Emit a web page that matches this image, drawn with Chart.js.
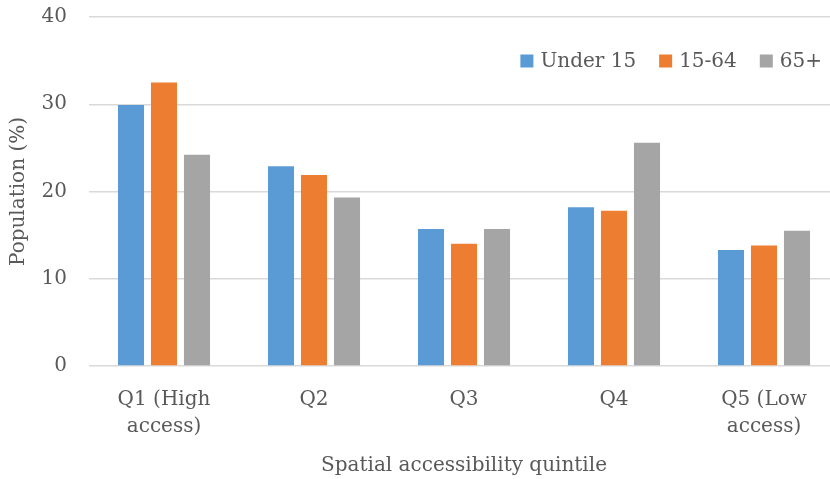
<!DOCTYPE html>
<html>
<head>
<meta charset="utf-8">
<script src="https://cdn.jsdelivr.net/npm/chart.js@4"></script>
<style>
  html, body { margin: 0; padding: 0; background: #fff; overflow: hidden; }
  #wrap { width: 830px; height: 479px; overflow: hidden; }
</style>
</head>
<body>
<div id="wrap"><canvas id="accessChart" width="840" height="479"></canvas></div>
<script>
// values
const quintiles = [["Q1 (High", "access)"], "Q2", "Q3", "Q4", ["Q5 (Low", "access)"]];
const under15 = [29.9, 22.9, 15.7, 18.2, 13.3];
const age15to64 = [32.5, 21.9, 14.0, 17.8, 13.8];
const over65 = [24.2, 19.3, 15.7, 25.6, 15.5];
const yTicks = [0, 10, 20, 30, 40];

const textColor = "#595959";
const fontFamily = "'DejaVu Serif', serif";

Chart.defaults.font.family = fontFamily;
Chart.defaults.color = textColor;

// legend drawn inside the plot, top right, like the original
const insideLegend = {
    id: "insideLegend",
    afterDraw(chart) {
        const c = chart.ctx;
        const sets = chart.data.datasets;
        const box = 13, gap = 7, spacing = 23;
        c.save();
        c.font = "20px " + fontFamily;
        c.textBaseline = "middle";
        const widths = sets.map(ds => box + gap + c.measureText(ds.label).width);
        const total = widths.reduce((a, b) => a + b, 0) + spacing * (sets.length - 1);
        let x = 822 - total;
        const y = 61;
        sets.forEach((ds, i) => {
            c.fillStyle = ds.backgroundColor;
            c.fillRect(x, y - box / 2, box, box);
            c.fillStyle = textColor;
            c.fillText(ds.label, x + box + gap, y + 1);
            x += widths[i] + spacing;
        });
        c.restore();
    }
};

const ctx = document.getElementById("accessChart").getContext("2d");

new Chart(ctx, {
    type: "bar",
    data: {
        labels: quintiles,
        datasets: [
            { label: "Under 15", data: under15, backgroundColor: "#5B9BD5" },
            { label: "15-64", data: age15to64, backgroundColor: "#ED7D31" },
            { label: "65+", data: over65, backgroundColor: "#A5A5A5" }
        ]
    },
    options: {
        responsive: false,
        animation: false,
        categoryPercentage: 0.66,
        barPercentage: 0.79,
        layout: { padding: { top: 17, right: 1, left: 0, bottom: 0 } },
        scales: {
            x: {
                grid: { display: false },
                border: { display: false },
                ticks: {
                    color: textColor,
                    font: { size: 20, lineHeight: 1.35 },
                    padding: 12,
                    maxRotation: 0,
                    autoSkip: false
                },
                title: {
                    display: true,
                    text: "Spatial accessibility quintile",
                    color: textColor,
                    font: { size: 20 },
                    padding: { top: 0, bottom: 1 }
                },
                afterFit: (scale) => { scale.height = 113; }
            },
            y: {
                min: 0,
                max: 40,
                afterBuildTicks: (scale) => {
                    scale.ticks = yTicks.map(v => ({ value: v }));
                },
                grid: {
                    color: "#d9d9d9",
                    lineWidth: 1.5,
                    drawTicks: false
                },
                border: { display: false },
                ticks: {
                    color: textColor,
                    font: { size: 20 },
                    padding: 22
                },
                title: {
                    display: true,
                    text: "Population (%)",
                    color: textColor,
                    font: { size: 20 },
                    padding: { top: 7, bottom: 0 }
                },
                afterFit: (scale) => {
                    scale.width = 89;
                    scale.paddingTop = 0;
                    scale.paddingBottom = 0;
                }
            }
        },
        plugins: {
            legend: { display: false },
            tooltip: { enabled: false }
        }
    },
    plugins: [insideLegend]
});
</script>
</body>
</html>
